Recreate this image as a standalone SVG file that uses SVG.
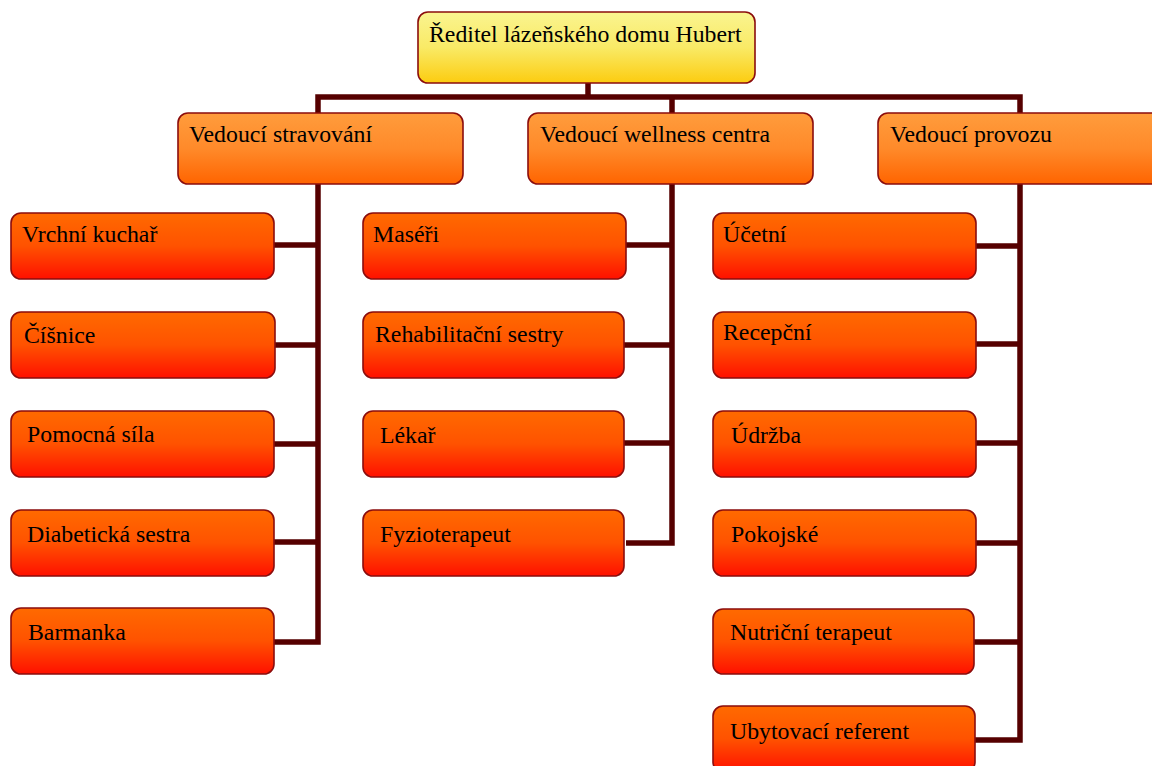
<svg xmlns="http://www.w3.org/2000/svg" width="1152" height="766" viewBox="0 0 1152 766">
<style>
.b{stroke:#8b0d0d;stroke-width:1.6}
.l1{fill:url(#gy)}
.l2{fill:url(#go)}
.l3{fill:url(#gr)}
.t{font-family:"Liberation Serif","Times New Roman",serif;font-size:23.8px;fill:#000}
.c{fill:none;stroke:#560000;stroke-width:5.5;stroke-linejoin:miter;stroke-linecap:butt}
</style>
<defs>
<linearGradient id="gy" x1="0" y1="0" x2="0" y2="1">
<stop offset="0" stop-color="#faf490"/>
<stop offset="0.5" stop-color="#f9ea66"/>
<stop offset="1" stop-color="#fccc10"/>
</linearGradient>
<linearGradient id="go" x1="0" y1="0" x2="0" y2="1">
<stop offset="0" stop-color="#ff9c3c"/>
<stop offset="0.5" stop-color="#ff8a2a"/>
<stop offset="1" stop-color="#ff6400"/>
</linearGradient>
<linearGradient id="gr" x1="0" y1="0" x2="0" y2="1">
<stop offset="0" stop-color="#ff6a00"/>
<stop offset="0.5" stop-color="#ff5200"/>
<stop offset="1" stop-color="#ff1000"/>
</linearGradient>
</defs>
<rect width="1152" height="766" fill="#fff"/>
<g id="connectors">
<path class="c" d="M588,83 V97"/>
<path class="c" d="M274,642 H318 V97 H1020 V740 H975"/>
<path class="c" d="M626,543 H672 V97"/>
<path class="c" d="M274,245 H318 M274,345 H318 M274,444 H318 M274,542 H318"/>
<path class="c" d="M626,245 H672 M624,345 H672 M624,443 H672"/>
<path class="c" d="M975,246 H1020 M975,344 H1020 M975,443 H1020 M975,543 H1020 M973,642 H1020"/>
</g>
<g id="n-reditel"><rect class="b l1" x="418" y="12" width="337" height="71" rx="10"/><text class="t" x="429" y="42">Ředitel lázeňského domu Hubert</text></g>
<g id="n-stravovani"><rect class="b l2" x="178" y="113" width="285" height="71" rx="10"/><text class="t" x="189" y="142">Vedoucí stravování</text></g>
<g id="n-wellness"><rect class="b l2" x="528" y="113" width="285" height="71" rx="10"/><text class="t" x="540" y="142">Vedoucí wellness centra</text></g>
<g id="n-provoz"><rect class="b l2" x="878" y="113" width="285" height="71" rx="10"/><text class="t" x="890" y="142">Vedoucí provozu</text></g>
<g id="n-kuchar"><rect class="b l3" x="11" y="213" width="263" height="66" rx="10"/><text class="t" x="22" y="242">Vrchní kuchař</text></g>
<g id="n-cisnice"><rect class="b l3" x="11" y="312" width="264" height="66" rx="10"/><text class="t" x="24" y="343">Číšnice</text></g>
<g id="n-pomocna"><rect class="b l3" x="11" y="411" width="263" height="66" rx="10"/><text class="t" x="27" y="442">Pomocná síla</text></g>
<g id="n-diabeticka"><rect class="b l3" x="11" y="510" width="263" height="66" rx="10"/><text class="t" x="27" y="542">Diabetická sestra</text></g>
<g id="n-barmanka"><rect class="b l3" x="11" y="608" width="263" height="66" rx="10"/><text class="t" x="28" y="640">Barmanka</text></g>
<g id="n-maseri"><rect class="b l3" x="363" y="213" width="263" height="66" rx="10"/><text class="t" x="373" y="242">Maséři</text></g>
<g id="n-rehab"><rect class="b l3" x="363" y="312" width="261" height="66" rx="10"/><text class="t" x="375" y="342">Rehabilitační sestry</text></g>
<g id="n-lekar"><rect class="b l3" x="363" y="411" width="261" height="66" rx="10"/><text class="t" x="380" y="443">Lékař</text></g>
<g id="n-fyzio"><rect class="b l3" x="363" y="510" width="261" height="66" rx="10"/><text class="t" x="380" y="542">Fyzioterapeut</text></g>
<g id="n-ucetni"><rect class="b l3" x="713" y="213" width="263" height="66" rx="10"/><text class="t" x="723" y="242">Účetní</text></g>
<g id="n-recepcni"><rect class="b l3" x="713" y="312" width="263" height="66" rx="10"/><text class="t" x="723" y="340">Recepční</text></g>
<g id="n-udrzba"><rect class="b l3" x="713" y="411" width="263" height="66" rx="10"/><text class="t" x="731" y="443">Údržba</text></g>
<g id="n-pokojske"><rect class="b l3" x="713" y="510" width="263" height="66" rx="10"/><text class="t" x="731" y="542">Pokojské</text></g>
<g id="n-nutricni"><rect class="b l3" x="713" y="609" width="261" height="65" rx="10"/><text class="t" x="730" y="640">Nutriční terapeut</text></g>
<g id="n-ubytovaci"><rect class="b l3" x="713" y="706" width="262" height="66" rx="10"/><text class="t" x="730" y="739">Ubytovací referent</text></g>
</svg>
